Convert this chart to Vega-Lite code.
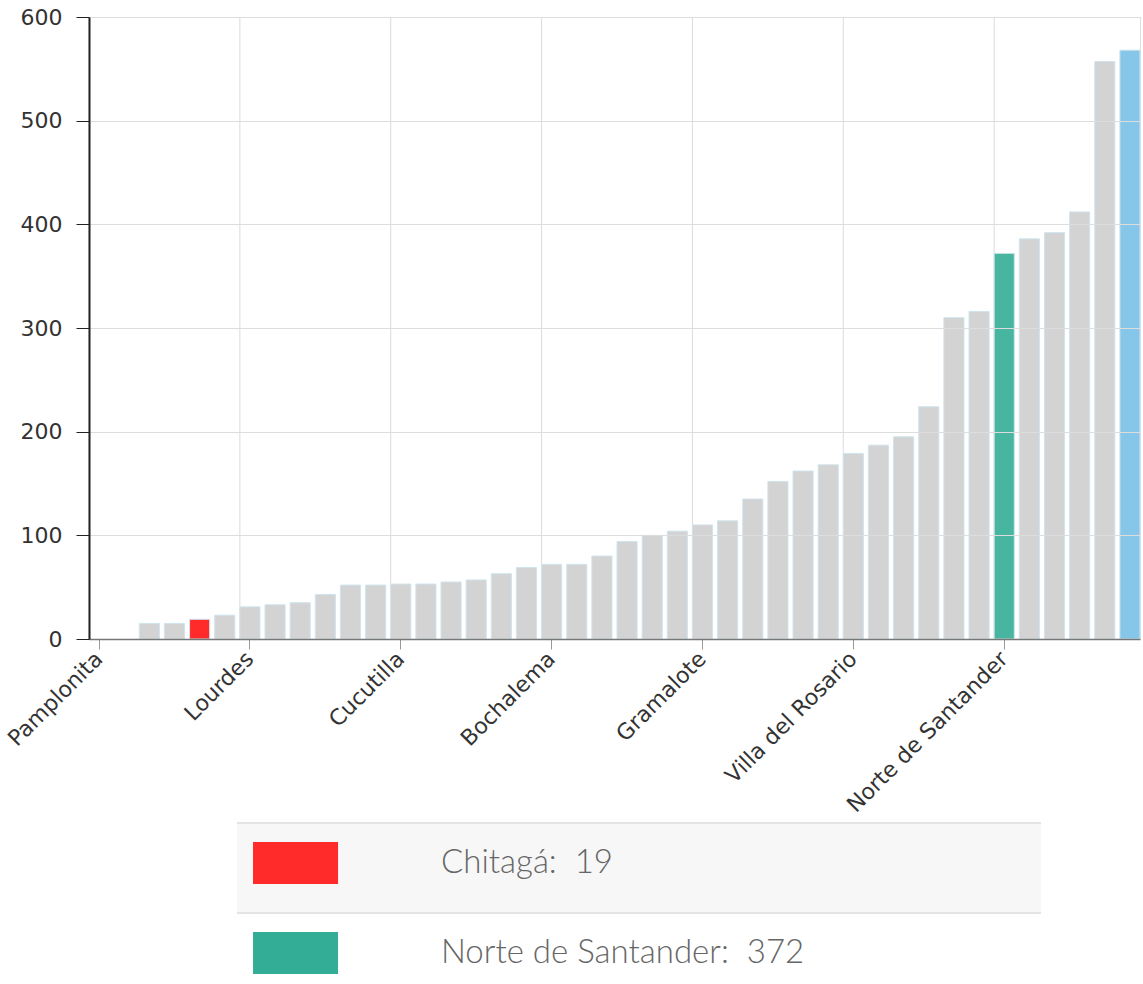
{
  "$schema": "https://vega.github.io/schema/vega-lite/v6.json",
  "padding": {"left": 3, "top": 5, "right": 2, "bottom": 0},
  "background": "white",
  "config": {"font": "DejaVu Sans", "view": {"stroke": null}},
  "spacing": 5,
  "datasets": {
    "municipios": [
      {"nombre": "Pamplonita", "valor": 0},
      {"nombre": "Cácota", "valor": 0},
      {"nombre": "Mutiscua", "valor": 15},
      {"nombre": "Silos", "valor": 15},
      {"nombre": "Chitagá", "valor": 19},
      {"nombre": "Labateca", "valor": 23},
      {"nombre": "Lourdes", "valor": 31},
      {"nombre": "Herrán", "valor": 33},
      {"nombre": "Ragonvalia", "valor": 35},
      {"nombre": "Durania", "valor": 43},
      {"nombre": "Arboledas", "valor": 52},
      {"nombre": "Salazar", "valor": 52},
      {"nombre": "Cucutilla", "valor": 53},
      {"nombre": "Santiago", "valor": 53},
      {"nombre": "Bucarasica", "valor": 55},
      {"nombre": "Villa Caro", "valor": 57},
      {"nombre": "Chinácota", "valor": 63},
      {"nombre": "Toledo", "valor": 69},
      {"nombre": "Bochalema", "valor": 72},
      {"nombre": "San Cayetano", "valor": 72},
      {"nombre": "La Esperanza", "valor": 80},
      {"nombre": "Cáchira", "valor": 94},
      {"nombre": "Hacarí", "valor": 100},
      {"nombre": "La Playa", "valor": 104},
      {"nombre": "Gramalote", "valor": 110},
      {"nombre": "San Calixto", "valor": 114},
      {"nombre": "El Carmen", "valor": 135},
      {"nombre": "Pamplona", "valor": 152},
      {"nombre": "Puerto Santander", "valor": 162},
      {"nombre": "Teorama", "valor": 168},
      {"nombre": "Villa del Rosario", "valor": 179},
      {"nombre": "Ábrego", "valor": 187},
      {"nombre": "Convención", "valor": 195},
      {"nombre": "El Zulia", "valor": 224},
      {"nombre": "Los Patios", "valor": 310},
      {"nombre": "Sardinata", "valor": 316},
      {"nombre": "Norte de Santander", "valor": 372},
      {"nombre": "Ocaña", "valor": 386},
      {"nombre": "El Tarra", "valor": 392},
      {"nombre": "Cúcuta", "valor": 412},
      {"nombre": "Tibú", "valor": 557},
      {"nombre": "Colombia", "valor": 568}
    ],
    "leyenda": [
      {"nombre": "Chitagá", "valor": 19, "etiqueta": "Chitagá:\u00a0 19"},
      {"nombre": "Norte de Santander", "valor": 372, "etiqueta": "Norte de Santander:\u00a0 372"}
    ]
  },
  "vconcat": [
    {
      "width": 1051,
      "height": 622,
      "data": {"name": "municipios"},
      "view": {"stroke": "#dddddd"},
      "layer": [
        {
          "mark": {"type": "rule", "color": "#dcdcdc", "strokeWidth": 1},
          "encoding": {
            "x": {"field": "nombre", "type": "nominal", "sort": null, "bandPosition": 0},
            "strokeOpacity": {
              "condition": {"test": "indexof(['Pamplonita','Lourdes','Cucutilla','Bochalema','Gramalote','Villa del Rosario','Norte de Santander'], datum.nombre) >= 0", "value": 1},
              "value": 0
            }
          }
        },
        {
          "mark": {"type": "bar", "stroke": "#cfe4ee", "strokeWidth": 1},
          "encoding": {
            "x": {
              "field": "nombre", "type": "nominal", "sort": null,
              "scale": {"paddingInner": 0.2, "paddingOuter": 0},
              "axis": {
                "title": null,
                "values": ["Pamplonita", "Lourdes", "Cucutilla", "Bochalema", "Gramalote", "Villa del Rosario", "Norte de Santander"],
                "labelAngle": -45,
                "labelAlign": "right",
                "labelBaseline": "middle",
                "labelFontSize": 22,
                "labelColor": "#333333",
                "labelPadding": 6,
                "labelLimit": 0,
                "tickSize": 10,
                "tickColor": "#999999",
                "domainColor": "#777777",
                "domainWidth": 1.5,
                "grid": false,
                "zindex": 1
              }
            },
            "y": {
              "field": "valor", "type": "quantitative",
              "scale": {"domain": [0, 600], "nice": false},
              "axis": {
                "title": null,
                "values": [0, 100, 200, 300, 400, 500, 600],
                "labelFontSize": 22,
                "labelColor": "#333333",
                "labelPadding": 14,
                "tickSize": 13,
                "tickColor": "#222222",
                "domainColor": "#222222",
                "domainWidth": 2,
                "grid": true,
                "gridColor": "#dddddd",
                "zindex": 1
              }
            },
            "color": {
              "condition": [
                {"test": "datum.nombre === 'Chitagá'", "value": "#ff2a2a"},
                {"test": "datum.nombre === 'Norte de Santander'", "value": "#48b5a0"},
                {"test": "datum.nombre === 'Colombia'", "value": "#86c6e9"}
              ],
              "value": "#d3d3d3"
            },
            "strokeOpacity": {"condition": {"test": "datum.valor > 0", "value": 1}, "value": 0}
          }
        }
      ]
    },
    {
      "width": 952,
      "height": 180,
      "data": {"name": "leyenda"},
      "encoding": {
        "y": {
          "field": "nombre", "type": "nominal", "sort": null,
          "scale": {"paddingInner": 0, "paddingOuter": 0},
          "axis": null
        }
      },
      "layer": [
        {
          "mark": {"type": "rect"},
          "encoding": {
            "x": {"datum": 0.1555, "type": "quantitative", "scale": {"domain": [0, 1], "nice": false, "zero": false}, "axis": null},
            "x2": {"datum": 1},
            "fill": {"condition": {"test": "datum.nombre === 'Chitagá'", "value": "#f7f7f7"}, "value": "#ffffff"}
          }
        },
        {
          "mark": {"type": "rule", "color": "#e4e4e4", "strokeWidth": 2},
          "encoding": {
            "x": {"datum": 0.1555, "type": "quantitative"},
            "x2": {"datum": 1},
            "y": {"field": "nombre", "type": "nominal", "sort": null, "bandPosition": 0}
          }
        },
        {
          "mark": {"type": "bar", "height": 42, "yOffset": -5},
          "encoding": {
            "x": {"datum": 0.1723, "type": "quantitative"},
            "x2": {"datum": 0.2616},
            "fill": {"condition": {"test": "datum.nombre === 'Chitagá'", "value": "#ff2a2a"}, "value": "#33ad96"}
          }
        },
        {
          "mark": {"type": "text", "align": "left", "baseline": "middle", "yOffset": -5, "font": "Lato", "fontWeight": 300, "fontSize": 33, "color": "#666666"},
          "encoding": {
            "x": {"datum": 0.3697, "type": "quantitative"},
            "text": {"field": "etiqueta", "type": "nominal"}
          }
        }
      ]
    }
  ]
}
